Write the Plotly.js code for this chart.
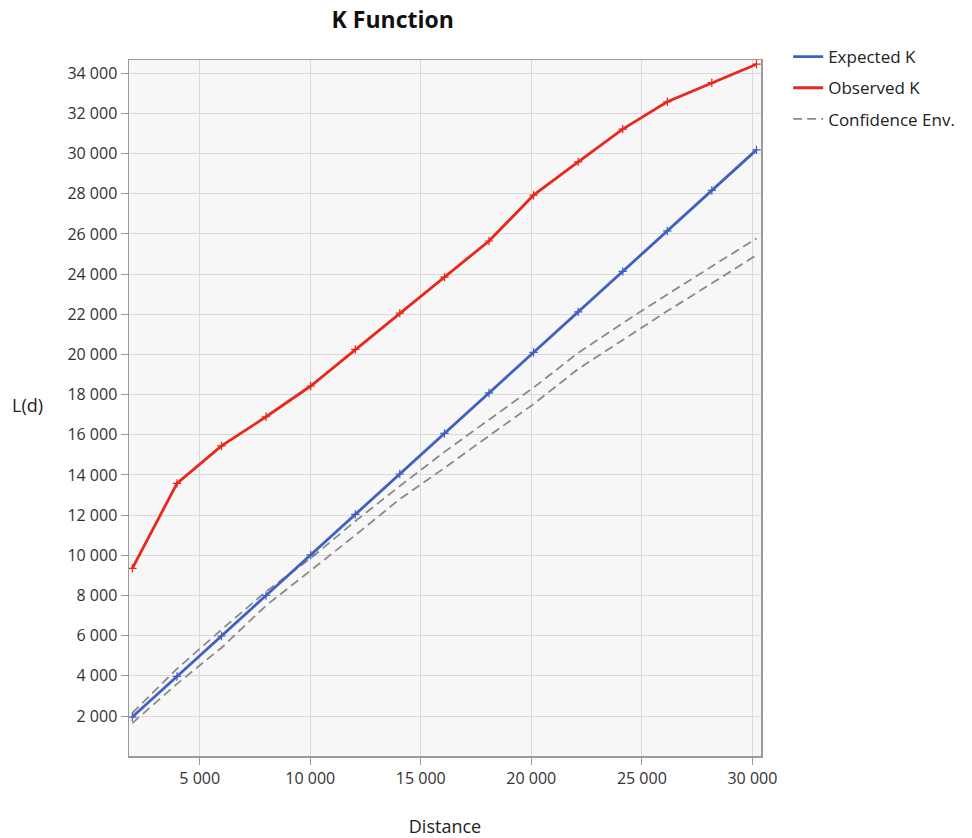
<!DOCTYPE html>
<html>
<head>
<meta charset="utf-8">
<script src="https://cdn.plot.ly/plotly-3.0.1.min.js"></script>
<style>html,body{margin:0;padding:0;background:#fff;}#chart{width:972px;height:838px;}</style>
</head>
<body>
<div id="chart"></div>
<script>
// Distance values (x)
const distance = [1950, 3970, 5985, 8000, 10020, 12035, 14050, 16070, 18085, 20100, 22120, 24135, 26150, 28165, 30185];
// Expected K
const expectedK = [1950, 3970, 5985, 8000, 10020, 12035, 14050, 16070, 18085, 20100, 22120, 24135, 26150, 28165, 30185];
// Observed K
const observedK = [9350, 13580, 15450, 16900, 18430, 20250, 22060, 23850, 25650, 27930, 29590, 31220, 32580, 33530, 34450];
// Confidence envelope upper / lower
const confUpper = [2150, 4350, 6300, 8200, 9850, 11700, 13450, 15150, 16750, 18350, 20080, 21560, 22990, 24380, 25780];
const confLower = [1650, 3600, 5400, 7500, 9250, 11000, 12800, 14350, 15950, 17530, 19280, 20730, 22160, 23540, 24950];

const FONT = '"Open Sans", "Noto Sans", sans-serif';
const BLUE = '#4060c0', RED = '#e8281c', GREY = '#8a8a8a';

const traces = [
  {x: distance, y: confUpper, name: 'Confidence Env.', mode: 'lines', legendgroup: 'g3', legendrank: 3,
   line: {color: GREY, width: 1.8, dash: '9px,5px'}},
  {x: distance, y: confLower, name: 'Confidence Env.', mode: 'lines', legendgroup: 'g3', showlegend: false,
   line: {color: GREY, width: 1.8, dash: '9px,5px'}},
  {x: distance, y: expectedK, name: 'Expected K', mode: 'lines', legendgroup: 'g1', legendrank: 1,
   line: {color: BLUE, width: 2.8}},
  {x: distance, y: expectedK, name: 'Expected K', mode: 'markers', legendgroup: 'g1', showlegend: false,
   marker: {symbol: 'cross-thin', size: 6, color: BLUE, line: {color: BLUE, width: 1.2}}},
  {x: distance, y: observedK, name: 'Observed K', mode: 'lines', legendgroup: 'g2', legendrank: 2,
   line: {color: RED, width: 2.8}},
  {x: distance, y: observedK, name: 'Observed K', mode: 'markers', legendgroup: 'g2', showlegend: false,
   marker: {symbol: 'cross-thin', size: 6, color: RED, line: {color: RED, width: 1.2}}}
];

const layout = {
  width: 972, height: 838,
  margin: {l: 129, r: 209, t: 60, b: 82},
  paper_bgcolor: '#ffffff',
  plot_bgcolor: '#f7f7f7',
  separators: '. ',
  font: {family: FONT, size: 15, color: '#333'},
  title: {text: '<b>K Function</b>', font: {family: FONT, size: 23, color: '#111'},
          x: 0.404, xref: 'container', xanchor: 'center', y: 0.976, yref: 'container', yanchor: 'middle'},
  xaxis: {
    range: [1800, 30390], dtick: 5000, tick0: 0, tickformat: ',d',
    showgrid: true, gridcolor: '#d9d9d9', gridwidth: 1,
    showline: true, linecolor: '#9a9a9a', linewidth: 1.5, mirror: true,
    ticks: 'outside', ticklen: 7, tickcolor: '#9a9a9a',
    zeroline: false,
    tickfont: {family: FONT, size: 16, color: '#333'},
    title: {text: 'Distance', font: {family: FONT, size: 18, color: '#222'}, standoff: 34}
  },
  yaxis: {
    range: [10, 34660], dtick: 2000, tick0: 0, tickformat: ',d',
    showgrid: true, gridcolor: '#d9d9d9', gridwidth: 1,
    showline: true, linecolor: '#9a9a9a', linewidth: 1.5, mirror: true,
    ticks: 'outside', ticklen: 7, tickcolor: '#9a9a9a',
    zeroline: false,
    tickfont: {family: FONT, size: 16, color: '#333'}
  },
  annotations: [
    {text: 'L(d)', xref: 'paper', yref: 'paper', x: -0.16, y: 0.505, xanchor: 'center', yanchor: 'middle',
     showarrow: false, font: {family: FONT, size: 18, color: '#222'}}
  ],
  legend: {
    x: 1.043, y: 1.03, xanchor: 'left', yanchor: 'top',
    font: {family: FONT, size: 17, color: '#222'},
    bgcolor: 'rgba(0,0,0,0)', traceorder: 'grouped', tracegroupgap: 6, itemwidth: 30
  },
  showlegend: true
};

Plotly.newPlot('chart', traces, layout, {displayModeBar: false, staticPlot: true});
</script>
</body>
</html>
